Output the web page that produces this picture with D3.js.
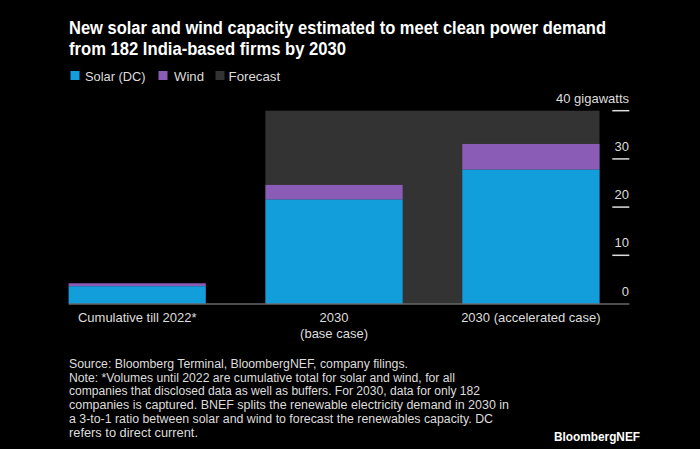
<!DOCTYPE html>
<html>
<head>
<meta charset="utf-8">
<script src="https://cdn.jsdelivr.net/npm/d3@7"></script>
<style>
  html, body { margin: 0; padding: 0; background: #000; }
  svg { display: block; }
  text { font-family: "Liberation Sans", Arial, sans-serif; }
</style>
</head>
<body>
<svg id="chart" width="700" height="449"></svg>
<script>
const categories = ["Cumulative till 2022*", "2030|(base case)", "2030 (accelerated case)"];
const solar = [3.6, 21.6, 27.8];
const wind = [0.6, 3.0, 5.3];
const forecastTop = 40;
const forecastCats = [1, 2];
const yTicks = [0, 10, 20, 30, 40];
const legendItems = ["Solar (DC)", "Wind", "Forecast"];
const titleLines = [
  "New solar and wind capacity estimated to meet clean power demand",
  "from 182 India-based firms by 2030"
];
const noteLines = [
  "Source: Bloomberg Terminal, BloombergNEF, company filings.",
  "Note: *Volumes until 2022 are cumulative total for solar and wind, for all",
  "companies that disclosed data as well as buffers. For 2030, data for only 182",
  "companies is captured. BNEF splits the renewable electricity demand in 2030 in",
  "a 3-to-1 ratio between solar and wind to forecast the renewables capacity. DC",
  "refers to direct current."
];

const colors = { solar: "#129edb", wind: "#8a5cb6", forecast: "#333333" };
const svg = d3.select("#chart");
svg.append("rect").attr("width", 700).attr("height", 449).attr("fill", "#000");

// Title
const titleWidths = [537, 277];
titleLines.forEach((t, i) => {
  svg.append("text").attr("x", 69).attr("y", 34 + i * 20.5)
    .attr("fill", "#fff").attr("font-size", 17.5).attr("font-weight", "bold")
    .attr("textLength", titleWidths[i]).attr("lengthAdjust", "spacingAndGlyphs")
    .text(t);
});

// Legend
const legendSq = [70.5, 158.5, 215.5];
const legendTx = [85, 174, 228.6];
const legendTextW = [60.5, 30, 51.5];
const legendCols = [colors.solar, colors.wind, colors.forecast];
legendItems.forEach((t, i) => {
  svg.append("rect").attr("x", legendSq[i]).attr("y", 71).attr("width", 9).attr("height", 9)
    .attr("fill", legendCols[i]);
  svg.append("text").attr("x", legendTx[i]).attr("y", 80.5)
    .attr("fill", "#ddd").attr("font-size", 13)
    .attr("textLength", legendTextW[i]).attr("lengthAdjust", "spacingAndGlyphs")
    .text(t);
});

// Scales
const x = d3.scaleBand().domain(categories).range([68.6, 599.5]).paddingInner(0.303).paddingOuter(0);
const y = d3.scaleLinear().domain([0, 40]).range([303.5, 110.7]);

// Forecast background
const fx0 = x(categories[forecastCats[0]]);
const fx1 = x(categories[forecastCats[1]]) + x.bandwidth();
svg.append("rect").attr("x", fx0).attr("y", y(forecastTop))
  .attr("width", fx1 - fx0).attr("height", y(0) - y(forecastTop))
  .attr("fill", colors.forecast);

// Bars
const g = svg.append("g");
categories.forEach((c, i) => {
  g.append("rect").attr("x", x(c)).attr("y", y(solar[i]))
    .attr("width", x.bandwidth()).attr("height", y(0) - y(solar[i]))
    .attr("fill", colors.solar);
  g.append("rect").attr("x", x(c)).attr("y", y(solar[i] + wind[i]))
    .attr("width", x.bandwidth()).attr("height", y(solar[i]) - y(solar[i] + wind[i]))
    .attr("fill", colors.wind);
});

// Baseline
svg.append("line").attr("x1", 68.6).attr("x2", 629.3).attr("y1", y(0) + 0.5).attr("y2", y(0) + 0.5)
  .attr("stroke", "#999").attr("stroke-width", 1.2);

// Y axis ticks (right)
yTicks.forEach(v => {
  if (v > 0) {
    svg.append("line").attr("x1", 612.3).attr("x2", 629.3).attr("y1", y(v)).attr("y2", y(v))
      .attr("stroke", "#ddd").attr("stroke-width", 1.5);
  }
  svg.append("text").attr("x", 629).attr("y", y(v) - 8)
    .attr("text-anchor", "end").attr("fill", "#ddd").attr("font-size", 13)
    .text(v === 40 ? "40 gigawatts" : v);
});

// X labels
categories.forEach(c => {
  const parts = c.split("|");
  parts.forEach((p, j) => {
    svg.append("text").attr("x", x(c) + x.bandwidth() / 2).attr("y", 321.5 + j * 16)
      .attr("text-anchor", "middle").attr("fill", "#ddd").attr("font-size", 13)
      .text(p);
  });
});

// Notes
const noteWidths = [339, 386, 411, 440, 424, 129];
noteLines.forEach((t, i) => {
  svg.append("text").attr("x", 69).attr("y", 368 + i * 13.7)
    .attr("fill", "#ddd").attr("font-size", 12.3)
    .attr("textLength", noteWidths[i]).attr("lengthAdjust", "spacingAndGlyphs")
    .text(t);
});

// Logo
svg.append("text").attr("x", 554).attr("y", 440.5)
  .attr("fill", "#fff").attr("font-size", 13).attr("font-weight", "bold")
  .attr("textLength", 86).attr("lengthAdjust", "spacingAndGlyphs")
  .text("BloombergNEF");
</script>
</body>
</html>
